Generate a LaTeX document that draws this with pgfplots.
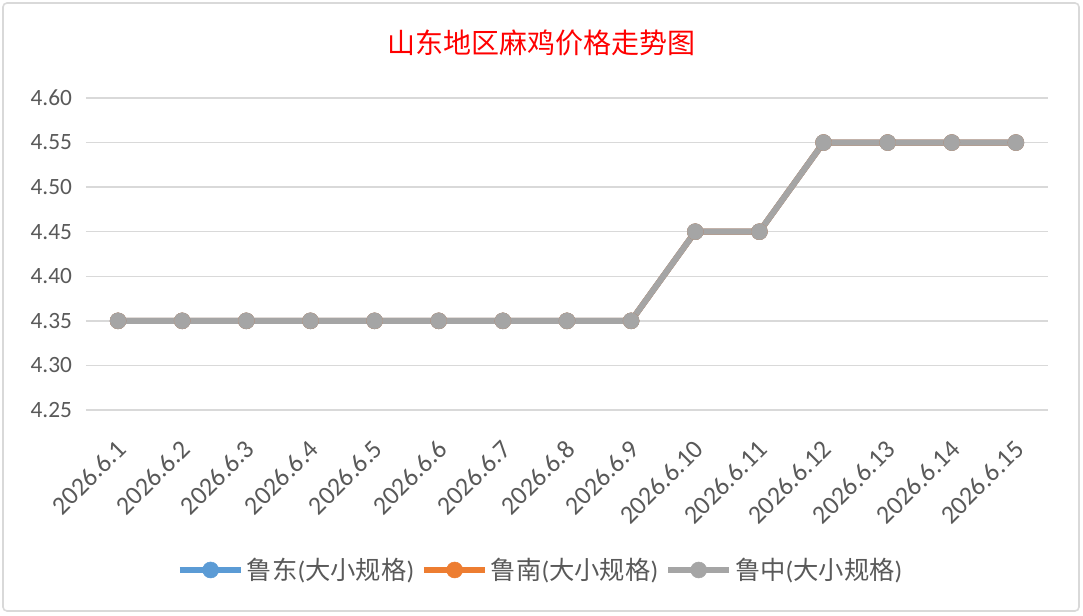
\documentclass[border=0pt]{standalone}
\usepackage{fontspec}
\setmainfont{Carlito}
\newfontfamily\cjk{Noto Sans CJK SC}
\usepackage{pgfplots}
\pgfplotsset{compat=1.18}
\usepackage{pgfplotstable}
\definecolor{sblue}{HTML}{5B9BD5}
\definecolor{sorange}{HTML}{ED7D31}
\definecolor{sgray}{HTML}{A5A5A5}
\definecolor{gridc}{HTML}{D9D9D9}
\definecolor{txt}{HTML}{595959}
\pgfplotstableread{
x y
0 4.35
1 4.35
2 4.35
3 4.35
4 4.35
5 4.35
6 4.35
7 4.35
8 4.35
9 4.45
10 4.45
11 4.55
12 4.55
13 4.55
14 4.55
}\ludong
\pgfplotstableread{
x y
0 4.35
1 4.35
2 4.35
3 4.35
4 4.35
5 4.35
6 4.35
7 4.35
8 4.35
9 4.45
10 4.45
11 4.55
12 4.55
13 4.55
14 4.55
}\lunan
\pgfplotstableread{
x y
0 4.35
1 4.35
2 4.35
3 4.35
4 4.35
5 4.35
6 4.35
7 4.35
8 4.35
9 4.45
10 4.45
11 4.55
12 4.55
13 4.55
14 4.55
}\luzhong
\begin{document}
\begin{tikzpicture}
\useasboundingbox (0pt,0pt) rectangle (812.25pt,462pt);
\draw[gridc, line width=1.2pt, rounded corners=3pt] (2.25pt,3.75pt) rectangle (809.25pt,459.75pt);
\node[text=red, font=\cjk\fontsize{21pt}{24pt}\selectfont] at (405.75pt,429.75pt) {山东地区麻鸡价格走势图};
\begin{axis}[
  at={(64.5pt,154.5pt)}, anchor=south west,
  scale only axis, width=721.5pt, height=234pt,
  xmin=-0.5, xmax=14.5, ymin=4.25, ymax=4.60,
  axis line style={draw=none},
  major tick length=0pt,
  ymajorgrids, grid style={gridc, line width=1.1pt},
  ytick={4.25,4.30,...,4.61},
  yticklabel style={/pgf/number format/fixed, /pgf/number format/fixed zerofill, /pgf/number format/precision=2, text=txt, font=\fontsize{17.5pt}{20pt}\selectfont, xshift=-7pt},
  /pgf/number format/assume math mode=true,
  xtick={0,...,14},
  xticklabels={2026.6.1,2026.6.2,2026.6.3,2026.6.4,2026.6.5,2026.6.6,2026.6.7,2026.6.8,2026.6.9,2026.6.10,2026.6.11,2026.6.12,2026.6.13,2026.6.14,2026.6.15},
  xticklabel style={rotate=45, anchor=north east, text=txt, font=\fontsize{19.5pt}{22pt}\selectfont, inner sep=0pt, xshift=-3pt},
  xticklabel shift=19pt,
  legend columns=3,
  legend style={at={(405.75pt-64.5pt,34.5pt-154.5pt)}, anchor=center, draw=none, fill=none, text=txt, font=\fontsize{19pt}{22pt}\selectfont, /tikz/every even column/.append style={column sep=3pt}},
  legend image code/.code={\draw[mark repeat=2, mark phase=2, #1] plot coordinates {(0pt,0pt) (23pt,0pt) (46pt,0pt)};},
  every axis plot/.append style={line width=4.5pt, mark=*},
  clip=false,
]
\addplot[sblue, mark size=6pt, mark options={fill=sblue, draw=sblue, line width=0.4pt}] table[x=x,y=y] {\ludong};
\addlegendentry{{\cjk 鲁东}({\cjk 大小规格})}
\addplot[sorange, mark size=6pt, mark options={fill=sorange, draw=sorange, line width=0.4pt}] table[x=x,y=y] {\lunan};
\addlegendentry{{\cjk 鲁南}({\cjk 大小规格})}
\addplot[sgray, mark size=6pt, mark options={fill=sgray, draw=sgray, line width=0.4pt}] table[x=x,y=y] {\luzhong};
\addlegendentry{{\cjk 鲁中}({\cjk 大小规格})}
\end{axis}
\end{tikzpicture}
\end{document}
